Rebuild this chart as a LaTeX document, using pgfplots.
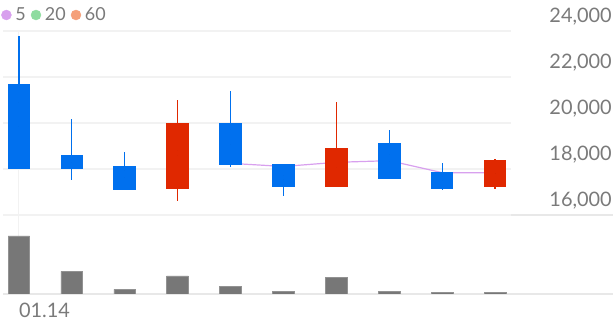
\documentclass[border=0pt]{standalone}
\usepackage{fontspec}
\setmainfont{Lato}
\usepackage{pgfplots}
\pgfplotsset{compat=1.18}
\definecolor{cblue}{HTML}{0070EE}
\definecolor{cred}{HTML}{E02800}
\definecolor{cgrid}{HTML}{F2F2F2}
\definecolor{cline}{HTML}{E8E8E8}
\definecolor{ctext}{HTML}{7A7A7A}
\definecolor{cvol}{HTML}{777777}
\definecolor{cma5}{HTML}{D8A0EE}
\definecolor{cma20}{HTML}{8FDCA0}
\definecolor{cma60}{HTML}{F5A07A}
\pgfplotsset{
  candle/.style 2 args={forget plot, only marks,
    mark options={draw=none, fill=none}, mark size=0pt,
    error bars/.cd, y dir=both, y explicit, error mark=none,
    error bar style={draw=#1, line width=#2}},
}
\begin{document}
\begin{tikzpicture}
\useasboundingbox (0,0) rectangle (616bp,321bp);
% volume panel
\begin{axis}[at={(3bp,27bp)}, anchor=south west, scale only axis,
  width=610bp, height=79bp, xmin=-0.3, xmax=11.23, ymin=0, ymax=783,
  separate axis lines,
  x axis line style={draw=cline, line width=1.2bp},
  y axis line style={draw=none},
  ytick=\empty, xtick={0}, xticklabels={01.14},
  major tick length=0pt,
  xmajorgrids, grid style={cgrid, line width=1.2bp},
  xticklabel style={anchor=north west, inner sep=0pt, yshift=-9bp,
    font=\fontsize{20}{20}\selectfont, text=ctext},
  ybar, bar width=0.41]
\addplot[fill=cvol, draw=cvol!80!white, line width=0.6bp] coordinates {
 (0,576) (1,223) (2,46) (3,180) (4,73) (5,26) (6,166) (7,23) (8,13) (9,13)};
\end{axis}
% price panel
\begin{axis}[at={(3bp,106bp)}, anchor=south west, scale only axis,
  width=508bp, height=184bp, xmin=-0.3, xmax=9.3, ymin=16000, ymax=24000,
  axis line style={draw=none}, scaled y ticks=false,
  ytick={16000,18000,20000,22000,24000},
  yticklabels={{16,000},{18,000},{20,000},{22,000},{24,000}},
  yticklabel pos=right, major tick length=0pt,
  ymajorgrids, xtick={0}, xticklabels={}, xmajorgrids,
  grid style={cgrid, line width=1.2bp},
  yticklabel style={anchor=east, inner sep=0pt, xshift=101bp, yshift=14bp,
    font=\fontsize{20}{20}\selectfont, text=ctext},
  legend style={at={(0,1)}, anchor=west, xshift=-2bp, yshift=16bp,
    draw=none, fill=none, inner sep=0pt,
    nodes={inner sep=0pt},
    font=\fontsize{18}{18}\selectfont, text=ctext,
    /tikz/every even column/.append style={column sep=5bp}},
  legend columns=3, legend cell align=left,
  clip=false]
\addlegendimage{legend image code/.code={\fill[cma5] (5bp,0) circle (5bp); \path[draw=none, fill=none] (0,0) -- (14bp,0);}}
\addlegendentry{5}
\addlegendimage{legend image code/.code={\fill[cma20] (5bp,0) circle (5bp); \path[draw=none, fill=none] (0,0) -- (14bp,0);}}
\addlegendentry{20}
\addlegendimage{legend image code/.code={\fill[cma60] (5bp,0) circle (5bp); \path[draw=none, fill=none] (0,0) -- (14bp,0);}}
\addlegendentry{60}
\addplot[forget plot, cma5, line width=1.2bp] coordinates {
 (4,18246) (5,18110) (6,18290) (7,18362) (8,17841) (9,17841)};
% wicks (centre +- half range)
\addplot[candle={cblue}{1.3bp}] coordinates {
 (0,20885) +- (0,2895) (1,18840) +- (0,1320) (2,17915) +- (0,825)
 (4,19730) +- (0,1660) (5,17530) +- (0,690) (7,18630) +- (0,1070)
 (8,17660) +- (0,590)};
\addplot[candle={cred}{1.3bp}] coordinates {
 (3,18805) +- (0,2195) (6,19065) +- (0,1835) (9,17785) +- (0,665)};
% bodies
\addplot[candle={cblue}{22.5bp}] coordinates {
 (0,19835) +- (0,1845) (1,18295) +- (0,305) (2,17610) +- (0,520)
 (4,19075) +- (0,915) (5,17725) +- (0,495) (7,18340) +- (0,780)
 (8,17500) +- (0,380)};
\addplot[candle={cred}{22.5bp}] coordinates {
 (3,18570) +- (0,1420) (6,18065) +- (0,835) (9,17795) +- (0,595)};
\end{axis}
\end{tikzpicture}
\end{document}
